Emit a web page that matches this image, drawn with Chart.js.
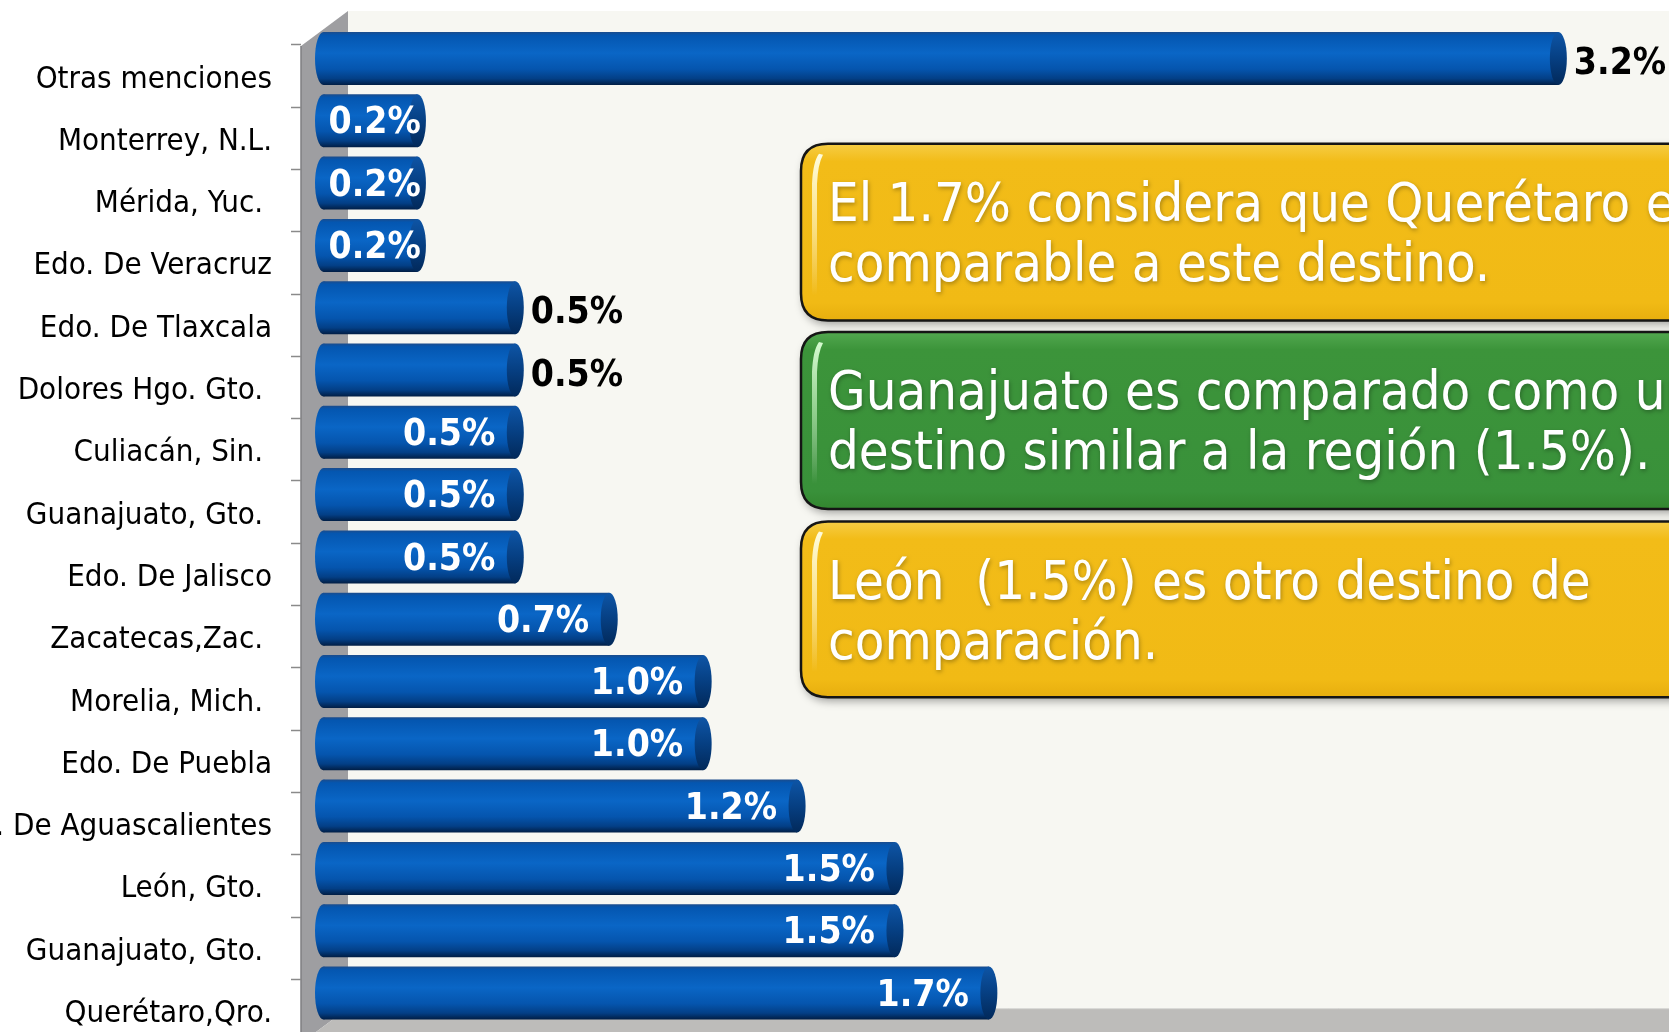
<!DOCTYPE html>
<html><head><meta charset="utf-8">
<script src="https://cdn.jsdelivr.net/npm/chart.js@4.4.1/dist/chart.umd.min.js"></script>
<style>html,body{margin:0;padding:0;background:#fff;overflow:hidden}canvas{display:block}</style>
</head><body>
<canvas id="c" width="1669" height="1032"></canvas>
<script>
// ---------- data ----------
const categories = ["Otras menciones","Monterrey, N.L.","Mérida, Yuc. ","Edo. De Veracruz","Edo. De Tlaxcala","Dolores Hgo. Gto. ","Culiacán, Sin. ","Guanajuato, Gto. ","Edo. De Jalisco","Zacatecas,Zac. ","Morelia, Mich. ","Edo. De Puebla","Edo. De Aguascalientes","León, Gto. ","Guanajuato, Gto. ","Querétaro,Qro."];
const values = [3.155, 0.24, 0.24, 0.24, 0.49, 0.49, 0.49, 0.49, 0.49, 0.73, 0.97, 0.97, 1.21, 1.46, 1.46, 1.70];
const noteLines = [
  ["El 1.7% considera que Querétaro es", "comparable a este destino."],
  ["Guanajuato es comparado como un", "destino similar a la región (1.5%)."],
  ["León  (1.5%) es otro destino de", "comparación."]
];
// ---------- styles ----------
const labelOutside = [true,false,false,false,true,true,false,false,false,false,false,false,false,false,false,false];
const FONT = '"DejaVu Sans Condensed", "DejaVu Sans", sans-serif';
const CAP_RX = 8.5;

function bodyGradient(ctx, yc, h) {
  const g = ctx.createLinearGradient(0, yc - h / 2, 0, yc + h / 2);
  g.addColorStop(0, '#1B4C8C');
  g.addColorStop(0.06, '#0456B0');
  g.addColorStop(0.4, '#0A66C6');
  g.addColorStop(0.7, '#0555AE');
  g.addColorStop(0.88, '#033F86');
  g.addColorStop(1, '#011E45');
  return g;
}
function barHeight(chart) {
  const ys = chart.scales.y;
  return (ys.bottom - ys.top) / categories.length * 0.85;
}

const scenePlugin = {
  id: 'scene',
  beforeDraw(chart) {
    const ctx = chart.ctx, ca = chart.chartArea, W = chart.width, H = chart.height;
    const fx = ca.left, bx = ca.left + 47;
    const backTop = ca.top - 16.4, frontTop = ca.top + 18.6;
    const floorBack = ca.bottom - 16, floorFront = floorBack + 35;
    ctx.save();
    ctx.fillStyle = '#fff'; ctx.fillRect(0, 0, W, H);
    ctx.fillStyle = '#F7F7F2'; ctx.fillRect(bx, backTop, W - bx, floorBack - backTop);
    // side wall
    ctx.beginPath(); ctx.moveTo(fx, frontTop); ctx.lineTo(bx, backTop); ctx.lineTo(bx, floorBack); ctx.lineTo(fx, floorFront); ctx.closePath();
    ctx.fillStyle = '#9E9EA1'; ctx.fill();
    // floor
    ctx.beginPath(); ctx.moveTo(fx, floorFront); ctx.lineTo(bx, floorBack); ctx.lineTo(W, floorBack); ctx.lineTo(W, floorFront); ctx.closePath();
    ctx.fillStyle = '#BDBCBA'; ctx.fill();
    ctx.strokeStyle = '#DCDCD8'; ctx.lineWidth = 1;
    ctx.beginPath(); ctx.moveTo(bx, floorBack + 0.5); ctx.lineTo(W, floorBack + 0.5); ctx.stroke();
    // front edge line
    ctx.strokeStyle = '#7E7E82'; ctx.lineWidth = 1.5;
    ctx.beginPath(); ctx.moveTo(fx, frontTop); ctx.lineTo(fx, H); ctx.stroke();
    // tick marks
    const band = (ca.bottom - ca.top) / categories.length;
    ctx.strokeStyle = '#8A8A8A'; ctx.lineWidth = 1.5;
    for (let k = 0; k < categories.length; k++) {
      const y = Math.round(ca.top + k * band + 17) + 0.5;
      ctx.beginPath(); ctx.moveTo(fx - 10, y); ctx.lineTo(fx, y); ctx.stroke();
    }
    ctx.restore();
  },
  beforeDatasetsDraw(chart) {
    const ctx = chart.ctx;
    const meta = chart.getDatasetMeta(0);
    ctx.save();
    meta.data.forEach(el => {
      const h = el.height;
      ctx.beginPath();
      ctx.ellipse(el.base, el.y, CAP_RX, h / 2, 0, 0, Math.PI * 2);
      ctx.fillStyle = bodyGradient(ctx, el.y, h);
      ctx.fill();
    });
    ctx.restore();
  },
  afterDatasetsDraw(chart) {
    const ctx = chart.ctx;
    const meta = chart.getDatasetMeta(0);
    ctx.save();
    meta.data.forEach((el, i) => {
      const h = el.height;
      const g = ctx.createLinearGradient(0, el.y - h / 2, 0, el.y + h / 2);
      g.addColorStop(0, '#0E55A6');
      g.addColorStop(0.5, '#063F82');
      g.addColorStop(1, '#02295A');
      ctx.beginPath();
      ctx.ellipse(el.x, el.y, CAP_RX, h / 2, 0, 0, Math.PI * 2);
      ctx.fillStyle = g; ctx.fill();
      // value labels
      const txt = values[i].toFixed(1) + '%';
      ctx.font = 'bold 37px ' + FONT;
      ctx.textBaseline = 'middle';
      if (labelOutside[i]) {
        ctx.fillStyle = '#000'; ctx.textAlign = 'left';
        ctx.fillText(txt, el.x + CAP_RX + 7, el.y + 6);
      } else {
        const w = ctx.measureText(txt).width;
        const xr = Math.max(el.x - 20, el.base + 5 + w);
        ctx.fillStyle = '#fff'; ctx.textAlign = 'right';
        ctx.fillText(txt, xr, el.y + 3);
      }
    });
    ctx.restore();
  },
  afterDraw(chart) {
    const ctx = chart.ctx, W = chart.width;
    const boxes = [
      {top: 143.7, bottom: 320.4, green: false},
      {top: 332, bottom: 509, green: true},
      {top: 521.6, bottom: 697.2, green: false}
    ];
    const x0 = 801, x1 = W + 40, r = 27;
    function path(top, bottom) {
      ctx.beginPath();
      ctx.moveTo(x0 + r, top);
      ctx.lineTo(x1 - r, top); ctx.quadraticCurveTo(x1, top, x1, top + r);
      ctx.lineTo(x1, bottom - r); ctx.quadraticCurveTo(x1, bottom, x1 - r, bottom);
      ctx.lineTo(x0 + r, bottom); ctx.quadraticCurveTo(x0, bottom, x0, bottom - r);
      ctx.lineTo(x0, top + r); ctx.quadraticCurveTo(x0, top, x0 + r, top);
      ctx.closePath();
    }
    boxes.forEach((b, bi) => {
      ctx.save();
      path(b.top, b.bottom);
      ctx.shadowColor = 'rgba(0,0,0,0.35)'; ctx.shadowBlur = 8; ctx.shadowOffsetX = 2; ctx.shadowOffsetY = 4;
      ctx.fillStyle = b.green ? '#3A9239' : '#F1BA15';
      ctx.fill();
      ctx.restore();
      ctx.save();
      path(b.top, b.bottom);
      const g = ctx.createLinearGradient(0, b.top, 0, b.bottom);
      if (b.green) {
        g.addColorStop(0, '#52A84F'); g.addColorStop(0.1, '#3C943A'); g.addColorStop(0.9, '#39913A'); g.addColorStop(1, '#33862F');
      } else {
        g.addColorStop(0, '#F6CD45'); g.addColorStop(0.1, '#F2BC18'); g.addColorStop(0.9, '#F1BA15'); g.addColorStop(1, '#E7AE0E');
      }
      ctx.fillStyle = g; ctx.fill();
      ctx.strokeStyle = '#151515'; ctx.lineWidth = 2.5; ctx.stroke();
      // gloss stripe
      const sg = ctx.createLinearGradient(0, b.top + 12, 0, b.bottom - 25);
      sg.addColorStop(0, b.green ? 'rgba(220,255,215,0.95)' : 'rgba(255,255,230,0.95)');
      sg.addColorStop(0.5, b.green ? 'rgba(200,245,195,0.6)' : 'rgba(255,250,210,0.6)');
      sg.addColorStop(1, 'rgba(255,255,255,0)');
      ctx.fillStyle = sg;
      ctx.beginPath();
      ctx.moveTo(x0 + 18, b.top + 10);
      ctx.quadraticCurveTo(x0 + 12, b.top + 18, x0 + 11, b.top + 40);
      ctx.lineTo(x0 + 11, b.bottom - 25);
      ctx.lineTo(x0 + 16, b.bottom - 25);
      ctx.lineTo(x0 + 16, b.top + 40);
      ctx.quadraticCurveTo(x0 + 17, b.top + 20, x0 + 22, b.top + 11);
      ctx.closePath(); ctx.fill();
      // text
      ctx.font = '54px ' + FONT;
      ctx.fillStyle = '#fff'; ctx.textAlign = 'left'; ctx.textBaseline = 'alphabetic';
      ctx.shadowColor = 'rgba(0,0,0,0.3)'; ctx.shadowBlur = 4; ctx.shadowOffsetX = 1; ctx.shadowOffsetY = 2;
      noteLines[bi].forEach((line, li) => ctx.fillText(line, 828, b.top + 77 + li * 60));
      ctx.restore();
    });
  }
};

new Chart(document.getElementById('c'), {
  type: 'bar',
  data: {
    labels: categories,
    datasets: [{
      data: values,
      backgroundColor: (c) => {
        const chart = c.chart;
        if (c.type !== 'data' || !chart.chartArea) return '#0A5FBE';
        const yc = chart.scales.y.getPixelForValue(c.dataIndex);
        return bodyGradient(chart.ctx, yc, barHeight(chart));
      },
      borderWidth: 0,
      categoryPercentage: 1,
      barPercentage: 0.85
    }]
  },
  options: {
    indexAxis: 'y',
    responsive: false,
    devicePixelRatio: 1,
    animation: false,
    layout: {padding: {top: 27.35, bottom: 7.85, left: 0, right: 0}},
    plugins: {legend: {display: false}, tooltip: {enabled: false}},
    scales: {
      x: {display: false, min: -0.0575, max: 3.4377},
      y: {
        grid: {display: false, drawTicks: false},
        border: {display: false},
        ticks: {autoSkip: false, color: '#000', padding: 29, labelOffset: 21, font: {family: FONT, size: 31}},
        afterFit: (s) => { s.width = 301; s.paddingTop = 0; s.paddingBottom = 0; }
      }
    }
  },
  plugins: [scenePlugin]
});
</script>
</body></html>
